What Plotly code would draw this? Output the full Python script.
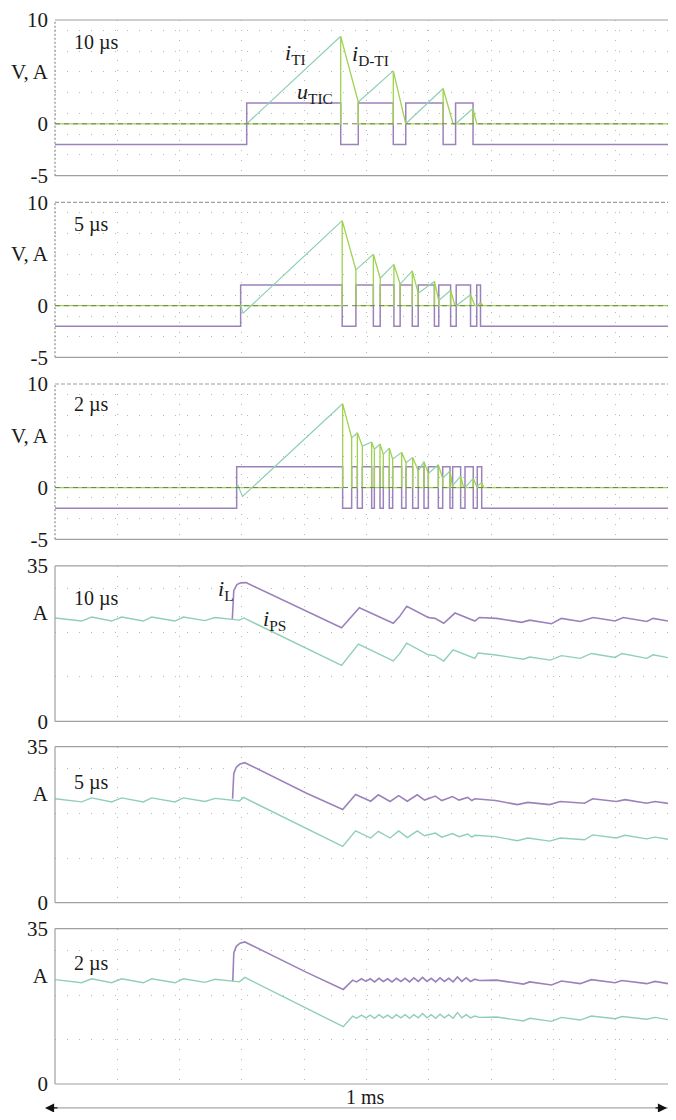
import plotly.graph_objects as go

# ---------------- data (time in microseconds, 1 ms window) ----------------
T_MAX = 997

# Top three panels: u_TIC (V), i_TI and i_D-TI (A)
# switching times of the TI switch and current levels at those instants
P1_STEP = 307.7
P1_PRE_T = [307.7]
P1_PRE_V = [0.0]
P1_OFF = [458.6, 543, 623, 671]
P1_PEAK = [8.43, 5.1, 3.4, 1.47]
P1_ON = [486.8, 563, 643]
P1_VALLEY = [2.1, 0.0, 0.0, 0.0]
P1_DEC_END = [486.8, 563, 639, 677]

P2_STEP = 298
P2_PRE_T = [298, 302]
P2_PRE_V = [0.0, -0.72]
P2_OFF = [461, 511, 544, 573.5, 609, 635, 667, 683]
P2_PEAK = [8.23, 4.98, 4.0, 3.37, 2.34, 1.5, 1.05, 0.3]
P2_ON = [483, 522, 554, 583, 616, 644, 677]
P2_VALLEY = [3.47, 2.66, 2.08, 1.21, 0.5, 0.0, 0.0, 0.0]
P2_DEC_END = [483, 522, 554, 583, 616, 642, 674, 687]

P3_STEP = 291.6
P3_PRE_T = [291.6, 293, 301]
P3_PRE_V = [0.0, 0.3, -0.86]
P3_OFF = [461.7, 485.3, 508.3, 521.7, 536.6, 556.4, 574.1, 592.3, 615.3, 634, 651.1, 671.4, 684.9]
P3_PEAK = [8.1, 5.3, 4.4, 4.2, 3.8, 3.4, 2.9, 2.5, 2.2, 1.6, 1.1, 0.88, 0.5]
P3_ON = [476.2, 493.3, 512.6, 527, 542, 563.4, 583.2, 599.3, 622.3, 638.3, 658.1, 677.8]
P3_VALLEY = [4.8, 4.0, 3.7, 3.2, 2.75, 2.4, 1.6, 1.36, 0.9, 0.2, 0.0, 0.1, 0.0]
P3_DEC_END = [476.2, 493.3, 512.6, 527, 542, 563.4, 583.2, 599.3, 622.3, 638.3, 656, 677.8, 688]

U_LOW, U_HIGH = -2.0, 2.0

# Bottom three panels: i_L and i_PS (A)
P4_PS_T = [0, 42.8, 58.9, 91, 107, 141.7, 155.2, 192.6, 206, 240.8, 256.8, 284.6, 295.8, 303,
           460, 487, 543, 553, 564.5, 599, 610, 624, 639, 674, 679, 705, 752, 762, 795, 813,
           843, 861, 899, 910, 950, 960, 997]
P4_PS_V = [23.3, 22.6, 23.5, 22.6, 23.5, 22.6, 23.5, 22.6, 23.5, 22.7, 23.4, 22.9, 22.8, 23.3,
           12.6, 17.4, 13.6, 15.2, 17.6, 15.0, 14.8, 13.6, 16.1, 14.2, 15.4, 15.0, 14.0, 14.5, 13.8, 14.8,
           14.2, 15.3, 14.4, 15.3, 14.2, 15.0, 14.0]
P4_L_T = [284.6, 287, 292, 298, 306.6, 404, 460, 488.5, 543, 553, 564.5, 599, 610, 624, 642, 674,
          681, 709, 749, 762, 797, 813, 843, 864, 899, 912, 950, 960, 997]
P4_L_V = [23.0, 29.5, 30.8, 31.2, 31.25, 24.8, 21.1, 25.6, 22.1, 23.6, 25.9, 23.4, 23.2, 22.1, 24.4, 22.6,
          23.4, 23.2, 22.3, 22.8, 22.0, 23.2, 22.5, 23.4, 22.6, 23.4, 22.5, 23.2, 22.3]

P5_PS_T = [0, 42.8, 58.9, 91, 107, 141.7, 155.2, 192.6, 206, 240.8, 256.8, 285, 296, 302.6,
           461.8, 482.5, 506.7, 519, 537.8, 551.7, 565.5, 581.4, 593.2, 610.5, 620.9, 638, 648.5,
           662.4, 669, 674, 707, 742, 759, 794, 811, 850, 863, 901, 915, 949.6, 963, 997]
P5_PS_V = [23.3, 22.6, 23.5, 22.6, 23.5, 22.6, 23.5, 22.6, 23.5, 22.7, 23.4, 22.9, 22.8, 23.6,
           12.6, 16.1, 14.5, 16.0, 14.5, 16.1, 14.6, 16.1, 15.0, 15.6, 14.7, 15.5, 14.8,
           15.4, 14.7, 15.1, 14.8, 13.9, 14.5, 13.8, 14.5, 14.1, 15.2, 14.5, 15.1, 14.3, 14.7, 13.9]
P5_L_T = [285, 287, 291, 297, 304.7, 403, 461.8, 482.5, 506.7, 519, 537.8, 551.7, 565.5, 581.4, 593.2,
          610.5, 620.9, 638, 648.5, 662.4, 669, 674, 707, 742, 759, 794, 811, 850, 863, 901, 915,
          949.6, 963, 997]
P5_L_V = [23.3, 29.0, 30.4, 31.1, 31.4, 24.6, 20.9, 24.25, 22.75, 24.2, 22.7, 24.0, 22.75, 24.2, 23.0,
          23.9, 22.9, 23.8, 23.0, 23.6, 22.9, 23.3, 22.9, 22.0, 22.5, 22.0, 22.7, 22.3, 23.3, 22.7, 23.1,
          22.3, 22.7, 22.0]

P6_PS_T = [0, 42.8, 58.9, 91, 107, 141.7, 155.2, 192.6, 206, 240.8, 256.8, 285.4, 296, 304.7,
           462.8, 477.8, 484, 492, 499, 506, 513, 520, 527, 534, 541, 548, 555, 562, 569, 576, 583,
           590, 597, 604, 611, 618, 625, 632, 639, 646, 653, 660, 667, 674, 681, 709, 752, 762, 797,
           813, 843, 861, 899, 910, 950, 963, 997]
P6_PS_V = [23.5, 22.8, 23.7, 22.8, 23.7, 22.8, 23.7, 22.8, 23.7, 22.9, 23.6, 23.1, 23.0, 24.0,
           12.9, 15.3, 14.8, 15.5, 14.9, 15.5, 14.8, 15.6, 14.9, 15.5, 14.8, 15.6, 14.9, 15.6, 14.8,
           15.6, 14.9, 15.9, 14.9, 15.6, 14.8, 15.7, 14.9, 15.6, 14.8, 16.1, 14.9, 15.6, 14.9, 15.3,
           15.0, 15.1, 14.2, 14.8, 14.1, 15.0, 14.4, 15.3, 14.7, 15.2, 14.6, 15.0, 14.2]
P6_L_T = [285.4, 287, 291, 297, 304.7, 403, 462.8, 477.8, 484, 492, 499, 506, 513, 520, 527, 534,
          541, 548, 555, 562, 569, 576, 583, 590, 597, 604, 611, 618, 625, 632, 639, 646, 653, 660,
          667, 674, 681, 709, 752, 762, 797, 813, 843, 861, 899, 910, 950, 963, 997]
P6_L_V = [23.2, 29.5, 31.0, 31.7, 32.0, 25.2, 21.3, 23.4, 23.0, 23.7, 23.1, 23.7, 23.0, 23.8, 23.1,
          23.7, 23.0, 23.8, 23.1, 23.8, 23.0, 23.9, 23.1, 24.0, 23.1, 23.8, 23.0, 23.9, 23.1, 23.8,
          23.0, 24.1, 23.1, 23.9, 23.1, 23.6, 23.3, 23.4, 22.5, 23.0, 22.3, 23.2, 22.6, 23.5, 22.8,
          23.3, 22.6, 23.1, 22.3]

PANEL_LABELS = ["10 µs", "5 µs", "2 µs", "10 µs", "5 µs", "2 µs"]
TOP_TICKS = [-5, 0, 5, 10]
TOP_TICKTEXT = ["-5", "0", "V, A", "10"]
BOT_TICKS = [0, 24.5, 35]
BOT_TICKTEXT = ["0", "A", "35"]

# ---------------- styling / geometry ----------------
BODY = 8                     # default page margin around the plot div
W, H = 676 - 2 * BODY, 1120 - 2 * BODY
ML = 55 - BODY
MT = 18 - BODY
MB = (H + BODY) - 1084
PLOT_H = H - MT - MB
PLOT_W = W - ML
X_MAX = (676 - BODY - 55) / 0.623      # microseconds visible to the page edge
# panel [top, bottom] in page pixels
PANEL_PX = [(18, 174), (200.7, 356), (382.7, 538.3), (565, 720.7), (746, 902.3), (928.3, 1084)]

C_U = "#9b82bb"      # u_TIC / i_L
C_TI = "#8fd0b4"     # i_TI / i_PS
C_DTI = "#9fd24e"    # i_D-TI
FONT = "Liberation Serif"
GRID = "#b8b8b8"
FRAME = "#a0a0a0"


def dom(top, bot):
    return [(1084 - bot) / PLOT_H, (1084 - top) / PLOT_H]


def px_x(p):
    return (p - BODY - ML) / PLOT_W


def px_y(p):
    return (1084 - p) / PLOT_H


def build_switch(step, pre_t, pre_v, off, peak, on, valley, dec_end):
    ut = [0, step]
    uv = [U_LOW, U_HIGH]
    for k, t in enumerate(off):
        ut.append(t); uv.append(U_LOW)
        if k < len(on):
            ut.append(on[k]); uv.append(U_HIGH)
    ut.append(T_MAX); uv.append(U_LOW)

    it = list(pre_t) + [off[0]]
    iv = list(pre_v) + [peak[0]]
    for k in range(len(on)):
        it += [None, on[k], off[k + 1]]
        iv += [None, valley[k], peak[k + 1]]

    dt = [0]
    dv = [0]
    for k in range(len(off)):
        dt += [off[k], off[k], dec_end[k], dec_end[k]]
        dv += [0, peak[k], valley[k], 0]
    dt.append(T_MAX); dv.append(0)
    return (ut, uv), (it, iv), (dt, dv)


fig = go.Figure()

top_sets = [
    (P1_STEP, P1_PRE_T, P1_PRE_V, P1_OFF, P1_PEAK, P1_ON, P1_VALLEY, P1_DEC_END),
    (P2_STEP, P2_PRE_T, P2_PRE_V, P2_OFF, P2_PEAK, P2_ON, P2_VALLEY, P2_DEC_END),
    (P3_STEP, P3_PRE_T, P3_PRE_V, P3_OFF, P3_PEAK, P3_ON, P3_VALLEY, P3_DEC_END),
]
for i, s in enumerate(top_sets):
    (ut, uv), (it, iv), (dt, dv) = build_switch(*s)
    ax = "" if i == 0 else str(i + 1)
    fig.add_trace(go.Scatter(x=ut, y=uv, mode="lines", line=dict(color=C_U, width=1.5, shape="hv"),
                             xaxis="x" + ax, yaxis="y" + ax, showlegend=False, hoverinfo="skip"))
    fig.add_trace(go.Scatter(x=it, y=iv, mode="lines", line=dict(color=C_TI, width=1.2),
                             xaxis="x" + ax, yaxis="y" + ax, showlegend=False, hoverinfo="skip"))
    fig.add_trace(go.Scatter(x=dt, y=dv, mode="lines", line=dict(color=C_DTI, width=1.3),
                             xaxis="x" + ax, yaxis="y" + ax, showlegend=False, hoverinfo="skip"))

bot_sets = [(P4_PS_T, P4_PS_V, P4_L_T, P4_L_V), (P5_PS_T, P5_PS_V, P5_L_T, P5_L_V),
            (P6_PS_T, P6_PS_V, P6_L_T, P6_L_V)]
for j, (pst, psv, lt, lv) in enumerate(bot_sets):
    ax = str(j + 4)
    fig.add_trace(go.Scatter(x=lt, y=lv, mode="lines", line=dict(color=C_U, width=1.6),
                             xaxis="x" + ax, yaxis="y" + ax, showlegend=False, hoverinfo="skip"))
    fig.add_trace(go.Scatter(x=pst, y=psv, mode="lines", line=dict(color=C_TI, width=1.4),
                             xaxis="x" + ax, yaxis="y" + ax, showlegend=False, hoverinfo="skip"))

layout = dict(width=W, height=H, margin=dict(l=ML, r=0, t=MT, b=MB, pad=0),
              paper_bgcolor="white", plot_bgcolor="white", showlegend=False,
              font=dict(family=FONT, color="#1a1a1a", size=20))
shapes = []
annotations = []
for i in range(6):
    n = "" if i == 0 else str(i + 1)
    top, bot = PANEL_PX[i]
    d = dom(top, bot)
    is_top = i < 3
    layout["xaxis" + n] = dict(domain=[0, 1], range=[0, X_MAX], anchor="y" + n,
                               tickvals=[100, 200, 300, 400, 500, 600, 700, 800, 900],
                               showticklabels=False, ticks="", showgrid=True, gridcolor=GRID,
                               griddash="1px,9px", gridwidth=1, zeroline=False, showline=False,
                               fixedrange=True)
    if is_top:
        yax = dict(range=[-5, 10], tickvals=TOP_TICKS, ticktext=TOP_TICKTEXT,
                   minor=dict(tickvals=[-3, -1, 1, 3, 5, 7, 9], showgrid=True, gridcolor=GRID,
                              griddash="1px,11px", gridwidth=1, ticks=""))
    else:
        yax = dict(range=[0, 35], tickvals=BOT_TICKS, ticktext=BOT_TICKTEXT,
                   minor=dict(tickvals=[10, 20, 30], showgrid=True, gridcolor=GRID,
                              griddash="1px,11px", gridwidth=1, ticks=""))
    yax.update(domain=d, anchor="x" + n, showgrid=False, zeroline=False, showline=False, ticks="",
               tickfont=dict(family=FONT, size=21, color="#1a1a1a"), ticklabelstandoff=6,
               ticklabeloverflow="allow", fixedrange=True)
    layout["yaxis" + n] = yax

    xr, yr = ("x" if i == 0 else "x" + n) + " domain", ("y" if i == 0 else "y" + n) + " domain"
    top_dash = "solid" if i in (0, 3, 4, 5) else "4px,2px"
    shapes.append(dict(type="line", xref=xr, yref=yr, x0=0, x1=1, y0=1, y1=1,
                       line=dict(color=FRAME, width=1.2, dash=top_dash)))
    shapes.append(dict(type="line", xref=xr, yref=yr, x0=0, x1=1, y0=0, y1=0,
                       line=dict(color=FRAME, width=1.2)))
    shapes.append(dict(type="line", xref=xr, yref=yr, x0=0, x1=0, y0=0, y1=1,
                       line=dict(color="#8a8a8a" if is_top else FRAME, width=1.2,
                                 dash="2px,2px" if is_top else "solid")))
    if is_top:
        shapes.append(dict(type="line", xref=xr, yref=("y" if i == 0 else "y" + n), x0=0, x1=1,
                           y0=0, y1=0, layer="above",
                           line=dict(color="#6f7f5a", width=1, dash="5px,4px")))

    xa = "x" if i == 0 else "x" + n
    ya = "y" if i == 0 else "y" + n
    lab_y = [7.8, 7.9, 8.0, 27.6, 26.9, 27.2][i]
    annotations.append(dict(x=27, y=lab_y, xref=xa, yref=ya, text=PANEL_LABELS[i], showarrow=False,
                            xanchor="left", yanchor="middle",
                            font=dict(family=FONT, size=20, color="#1a1a1a")))

# curve labels
annotations += [
    dict(x=366, y=6.7, xref="x", yref="y", text="<i>i</i><sub>TI</sub>"),
    dict(x=386, y=3.0, xref="x", yref="y", text="<i>u</i><sub>TIC</sub>"),
    dict(x=473, y=6.6, xref="x", yref="y", text="<i>i</i><sub>D-TI</sub>"),
    dict(x=259, y=29.6, xref="x4", yref="y4", text="<i>i</i><sub>L</sub>"),
    dict(x=330, y=22.9, xref="x4", yref="y4", text="<i>i</i><sub>PS</sub>"),
]
for a in annotations[-5:]:
    a.update(showarrow=False, xanchor="left", yanchor="middle",
             font=dict(family=FONT, size=22, color="#1a1a1a"))

# 1 ms span arrow: light shaft with dark heads
ARROW_Y = px_y(1108)
shapes.append(dict(type="line", xref="paper", yref="paper", x0=px_x(50), x1=1.0, y0=ARROW_Y, y1=ARROW_Y,
                   line=dict(color="#a8a8a8", width=1.3)))
annotations.append(dict(x=px_x(45), y=ARROW_Y, xref="paper", yref="paper", ax=14, ay=0,
                        text="", showarrow=True, arrowhead=2, arrowsize=1.4, arrowwidth=1.3,
                        arrowcolor="#111"))
annotations.append(dict(x=1.0, y=ARROW_Y, xref="paper", yref="paper", ax=-14, ay=0,
                        text="", showarrow=True, arrowhead=2, arrowsize=1.4, arrowwidth=1.3,
                        arrowcolor="#111"))
annotations.append(dict(x=px_x(365), y=px_y(1097), xref="paper", yref="paper", text="1 ms",
                        showarrow=False, xanchor="center", yanchor="middle",
                        font=dict(family=FONT, size=20, color="#1a1a1a")))

layout["shapes"] = shapes
layout["annotations"] = annotations
fig.update_layout(**layout)
fig.write_html("out.html")
